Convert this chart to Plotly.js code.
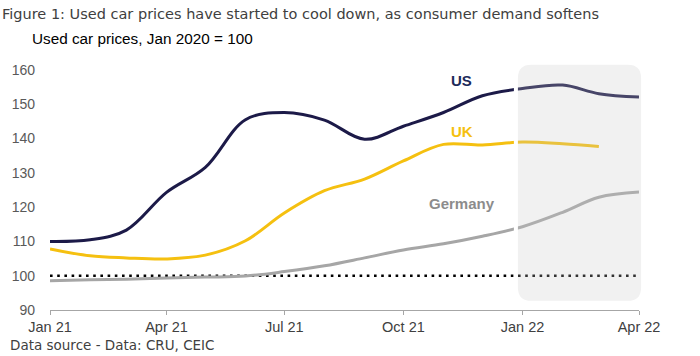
<!DOCTYPE html>
<html>
<head>
<meta charset="utf-8">
<script src="https://cdn.plot.ly/plotly-3.0.1.min.js"></script>
<style>html,body{margin:0;padding:0;background:#fff;}#chart{width:700px;height:356px;}</style>
</head>
<body>
<div id="chart"></div>
<script>
// Data (monthly, Jan 2020 = 100)
const months = ["2021-01-01","2021-02-01","2021-03-01","2021-04-01","2021-05-01","2021-06-01","2021-07-01","2021-08-01","2021-09-01","2021-10-01","2021-11-01","2021-12-01","2022-01-01","2022-02-01","2022-03-01","2022-04-01"];
const usValues = [110.0,110.5,113.3,124.3,131.6,145.5,147.6,145.4,139.8,143.6,147.6,152.5,154.6,155.6,153.1,152.1];
const ukValues = [107.8,105.8,105.2,104.9,106.0,110.2,118.3,124.8,128.2,133.5,138.3,138.1,139.0,138.5,137.7];
const deValues = [98.5,98.8,99.0,99.3,99.6,99.9,101.2,102.9,105.2,107.5,109.3,111.5,114.3,118.5,122.9,124.4];
const baseline = 100;
const tickDates = ["2021-01-01","2021-04-01","2021-07-01","2021-10-01","2022-01-01","2022-04-01"];
const tickLabels = ["Jan 21","Apr 21","Jul 21","Oct 21","Jan 22","Apr 22"];
const seriesNames = ["US","UK","Germany"];

const colors = {US:"#1c1a48", UK:"#f5c010", Germany:"#a6a6a6"};

const traces = [
  {x:[months[0], months[months.length-1]], y:[baseline, baseline], mode:"lines",
   line:{color:"#000000", width:2.6, dash:"2.6px,4.6px"}, hoverinfo:"skip"},
  {x:months.slice(0, deValues.length), y:deValues, mode:"lines", name:"Germany",
   line:{color:colors.Germany, width:3, shape:"spline", smoothing:1}},
  {x:months.slice(0, ukValues.length), y:ukValues, mode:"lines", name:"UK",
   line:{color:colors.UK, width:3, shape:"spline", smoothing:1}},
  {x:months.slice(0, usValues.length), y:usValues, mode:"lines", name:"US",
   line:{color:colors.US, width:3, shape:"spline", smoothing:1}}
];

// rounded highlight box (paper coords)
const bx0 = 0.791, bx1 = 1.007, by0 = 0.03, by1 = 1.03, rx = 0.026, ry = 0.065;
const boxPath = `M ${bx0+rx},${by0} L ${bx1-rx},${by0} Q ${bx1},${by0} ${bx1},${by0+ry} L ${bx1},${by1-ry} Q ${bx1},${by1} ${bx1-rx},${by1} L ${bx0+rx},${by1} Q ${bx0},${by1} ${bx0},${by1-ry} L ${bx0},${by0+ry} Q ${bx0},${by0} ${bx0+rx},${by0} Z`;

const layout = {
  width:700, height:356,
  margin:{l:50, r:61, t:70, b:46},
  paper_bgcolor:"#ffffff", plot_bgcolor:"#ffffff",
  showlegend:false,
  font:{family:"Liberation Sans, Arial, sans-serif", size:14, color:"#404040"},
  xaxis:{type:"date", range:["2021-01-01","2022-04-01"], tickvals:tickDates, ticktext:tickLabels,
    showgrid:false, zeroline:false, showline:true, linecolor:"#a6a6a6", linewidth:1,
    ticks:"outside", ticklen:4, tickcolor:"#a6a6a6", tickfont:{size:14.5, color:"#404040"}, fixedrange:true},
  yaxis:{range:[90,160], tickvals:[90,100,110,120,130,140,150,160], showgrid:false, zeroline:false,
    showline:false, ticks:"", ticklabelstandoff:14, tickfont:{size:14, color:"#595959"}, fixedrange:true},
  shapes:[{type:"path", xref:"paper", yref:"paper", path:boxPath, layer:"above",
    fillcolor:"rgba(200,200,200,0.25)", line:{color:"#ffffff", width:4}}],
  annotations:[
    {text:"Figure 1: Used car prices have started to cool down, as consumer demand softens", xref:"paper", yref:"paper",
     x:-50/589, y:1+(70-14)/240, xanchor:"left", yanchor:"middle", showarrow:false,
     font:{family:"DejaVu Sans, Verdana, sans-serif", size:14.5, color:"#404040"}},
    {text:"Used car prices, Jan 2020 = 100", xref:"paper", yref:"paper",
     x:-20/589, y:1+(70-38)/240, xanchor:"left", yanchor:"middle", showarrow:false,
     font:{family:"Liberation Sans, Arial, sans-serif", size:15.3, color:"#000000"}},
    {text:"Data source - Data: CRU, CEIC", xref:"paper", yref:"paper",
     x:-42/589, y:-(345-310)/240, xanchor:"left", yanchor:"middle", showarrow:false,
     font:{family:"DejaVu Sans, Verdana, sans-serif", size:13.5, color:"#404040"}},
    {text:"<b>"+seriesNames[0]+"</b>", x:"2021-11-15", y:156.9, showarrow:false,
     font:{family:"Liberation Sans, Arial, sans-serif", size:15, color:"#1c2a5a"}},
    {text:"<b>"+seriesNames[1]+"</b>", x:"2021-11-15", y:142.0, showarrow:false,
     font:{family:"Liberation Sans, Arial, sans-serif", size:15, color:"#f5c010"}},
    {text:"<b>"+seriesNames[2]+"</b>", x:"2021-11-15", y:121.0, showarrow:false,
     font:{family:"Liberation Sans, Arial, sans-serif", size:15, color:"#8c8c8c"}}
  ]
};

Plotly.newPlot("chart", traces, layout, {displayModeBar:false, staticPlot:true});
</script>
</body>
</html>
